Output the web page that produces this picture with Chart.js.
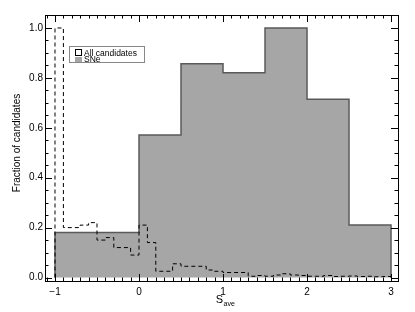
<!DOCTYPE html>
<html>
<head>
<meta charset="utf-8">
<script src="https://cdn.jsdelivr.net/npm/chart.js@4/dist/chart.umd.min.js"></script>
<style>
html,body{margin:0;padding:0;background:#fff;}
#wrap{width:415px;height:312px;position:relative;}
</style>
</head>
<body>
<div id="wrap"><canvas id="c" width="415" height="312"></canvas></div>
<script>
// ---- data ----
const allBinStarts = [-1.0,-0.9,-0.8,-0.7,-0.6,-0.5,-0.4,-0.3,-0.2,-0.1,
  0.0,0.1,0.2,0.3,0.4,0.5,0.6,0.7,0.8,0.9,
  1.0,1.1,1.2,1.3,1.4,1.5,1.6,1.7,1.8,1.9,
  2.0,2.1,2.2,2.3,2.4,2.5,2.6,2.7,2.8,2.9];
const allValues = [1.0,0.20,0.20,0.21,0.22,0.15,0.16,0.12,0.12,0.09,
  0.21,0.14,0.025,0.025,0.055,0.045,0.045,0.045,0.03,0.025,
  0.02,0.02,0.02,0.005,0.008,0.005,0.01,0.015,0.01,0.008,
  0.005,0.005,0.008,0.004,0.005,0.006,0.004,0.005,0.003,0.004];
const sneBinStarts = [-1.0,-0.5,0.0,0.5,1.0,1.5,2.0,2.5];
const sneValues = [0.18,0.18,0.571,0.857,0.821,1.0,0.714,0.21];
const histEnd = 3.0;
const xTickValues = [-1,0,1,2,3];
const yTickValues = [0.0,0.2,0.4,0.6,0.8,1.0];
const seriesLabels = ['All candidates','SNe'];
const yTitle = 'Fraction of candidates';
const xTitleMain = 'S';
const xTitleSub = 'ave';

function stepPoints(starts, vals, end){
  const pts = [{x:starts[0], y:0}];
  for(let i=0;i<starts.length;i++) pts.push({x:starts[i], y:vals[i]});
  pts.push({x:end, y:0});
  return pts;
}

const FONT = 'Liberation Sans, Arial, Helvetica, sans-serif';

const decor = {
  id:'decor',
  afterDraw(chart){
    const ctx = chart.ctx, a = chart.chartArea;
    const xs = chart.scales.x, ys = chart.scales.y;
    ctx.save();
    ctx.strokeStyle = '#000'; ctx.lineWidth = 1;
    ctx.strokeRect(Math.round(a.left)+0.5, Math.round(a.top)+0.5, Math.round(a.right-a.left)-1, Math.round(a.bottom-a.top));
    ctx.beginPath();
    // y ticks
    for(let k=0;k<=21;k++){
      const v = k*0.05;
      if(v>ys.max) break;
      const p = Math.round(ys.getPixelForValue(v))+0.5;
      const major = (k%4===0);
      const L = major?7:3.5;
      ctx.moveTo(a.left, p); ctx.lineTo(a.left+L, p);
      ctx.moveTo(a.right-1, p); ctx.lineTo(a.right-1-L, p);
    }
    // x ticks
    for(let k=-11;k<=31;k++){
      const v = k/10;
      if(v<xs.min||v>xs.max) continue;
      const p = Math.round(xs.getPixelForValue(v))+0.5;
      const major = (k%10===0);
      const L = major?7:3.5;
      ctx.moveTo(p, a.bottom); ctx.lineTo(p, a.bottom-L);
      ctx.moveTo(p, a.top); ctx.lineTo(p, a.top+L);
    }
    ctx.stroke();

    // y title
    ctx.fillStyle = '#000';
    ctx.font = '10px '+FONT;
    ctx.textAlign = 'center'; ctx.textBaseline = 'middle';
    ctx.save();
    ctx.translate(17, 143);
    ctx.rotate(-Math.PI/2);
    ctx.fillText(yTitle, 0, 0);
    ctx.restore();

    // x title with subscript
    ctx.textAlign = 'left'; ctx.textBaseline = 'alphabetic';
    ctx.font = '11px '+FONT;
    const wS = ctx.measureText(xTitleMain).width;
    ctx.font = '7px '+FONT;
    const wSub = ctx.measureText(xTitleSub).width;
    const cx = (a.left+a.right)/2 + 3;
    const x0 = cx - (wS+wSub)/2;
    ctx.font = '11px '+FONT;
    ctx.fillText(xTitleMain, x0, 303);
    ctx.font = '7px '+FONT;
    ctx.fillText(xTitleSub, x0+wS+0.5, 306);

    // legend
    const lx=69.5, ly=46.5, lw=75, lh=16;
    ctx.fillStyle='#fff';
    ctx.fillRect(lx,ly,lw,lh);
    ctx.strokeStyle='#888'; ctx.lineWidth=1;
    ctx.strokeRect(lx,ly,lw,lh);
    ctx.strokeStyle='#000';
    ctx.strokeRect(75.5,49.5,6,6);
    ctx.fillStyle='#a6a6a6';
    ctx.fillRect(75,57,7,5);
    ctx.fillStyle='#000';
    ctx.font='8.5px '+FONT;
    ctx.textBaseline='alphabetic';
    ctx.fillText(seriesLabels[0], 84, 55.5);
    ctx.fillText(seriesLabels[1], 84, 62);
    ctx.restore();
  }
};

new Chart(document.getElementById('c'), {
  type:'line',
  data:{
    datasets:[
      {
        label: seriesLabels[0],
        data: stepPoints(allBinStarts, allValues, histEnd),
        stepped: true,
        borderColor:'#000',
        borderWidth:1,
        borderDash:[4,3],
        pointRadius:0,
        fill:false,
        order:0
      },
      {
        label: seriesLabels[1],
        data: stepPoints(sneBinStarts, sneValues, histEnd),
        stepped: true,
        borderColor:'#5a5a5a',
        borderWidth:1.5,
        backgroundColor:'#a6a6a6',
        pointRadius:0,
        fill:'origin',
        order:1
      }
    ]
  },
  options:{
    responsive:false,
    animation:false,
    events:[],
    layout:{padding:{left:0,right:16,top:15,bottom:0}},
    plugins:{legend:{display:false}, tooltip:{enabled:false}},
    scales:{
      x:{
        type:'linear',
        min:-1.119, max:3.095,
        grid:{display:false, drawTicks:false},
        border:{display:false},
        afterBuildTicks(s){ s.ticks = xTickValues.map(v=>({value:v})); },
        afterFit(s){ s.height = 31; },
        ticks:{
          padding:5,
          color:'#000',
          font:{family:FONT, size:10},
          maxRotation:0,
          callback:(v)=> v<0 ? '\u2212'+Math.abs(v) : String(v)
        }
      },
      y:{
        type:'linear',
        min:-0.014, max:1.052,
        grid:{display:false, drawTicks:false},
        border:{display:false},
        afterBuildTicks(s){ s.ticks = yTickValues.map(v=>({value:v})); },
        afterFit(s){ s.width = 45; },
        ticks:{
          padding:2,
          color:'#000',
          font:{family:FONT, size:10},
          callback:(v)=> Number(v).toFixed(1)
        }
      }
    }
  },
  plugins:[decor]
});
</script>
</body>
</html>
